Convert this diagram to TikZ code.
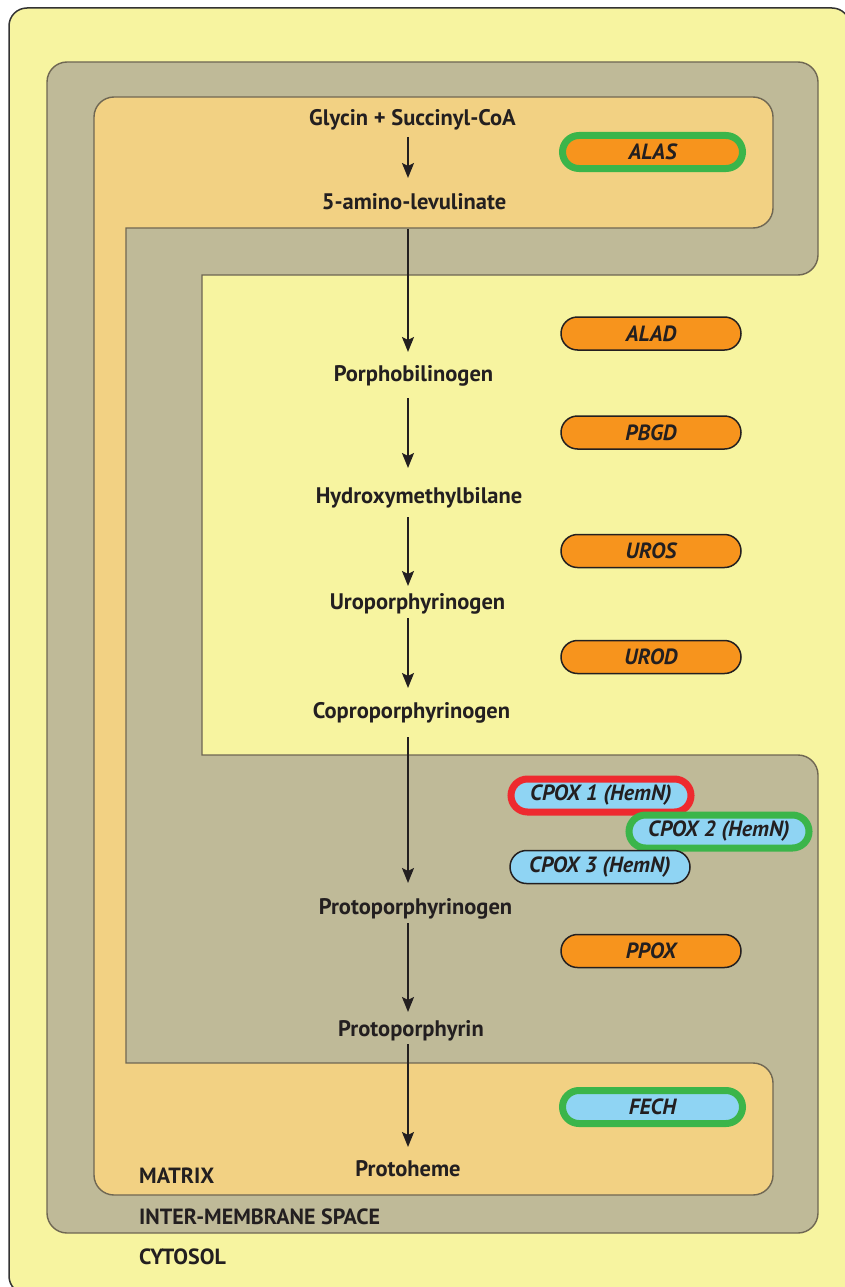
\documentclass[tikz,border=0pt]{standalone}
\usepackage{fontspec}
\setmainfont{PT Sans}
\usetikzlibrary{shapes.misc,arrows.meta,calc}
\definecolor{cyto}{HTML}{F7F4A0}
\definecolor{imsc}{HTML}{BFBA98}
\definecolor{matrixc}{HTML}{F2D183}
\definecolor{memb}{HTML}{6F6753}
\definecolor{enzorange}{HTML}{F7941D}
\definecolor{enzblue}{HTML}{8FD4F3}
\definecolor{ringgreen}{HTML}{3BB54A}
\definecolor{ringred}{HTML}{EE2A2F}
\definecolor{ink}{HTML}{231F20}
\begin{document}
\begin{tikzpicture}[x=1pt,y=-1pt,
  metab/.style={font=\fontsize{22.5}{26}\selectfont\bfseries, text=ink, anchor=base, inner sep=0pt},
  region/.style={font=\fontsize{22}{26}\selectfont\bfseries, text=ink, anchor=base west, inner sep=0pt},
  enz/.style={rounded rectangle, minimum width=180pt, minimum height=33pt, inner sep=0pt,
    font=\fontsize{22}{26}\selectfont\bfseries\itshape, text=ink},
  enzo/.style={enz, fill=enzorange, draw=ink, line width=1.5pt},
  enzb/.style={enz, fill=enzblue, draw=ink, line width=1.5pt},
  ringg/.style={draw=ringgreen, line width=7pt},
  ringr/.style={draw=ringred, line width=7pt},
  arr/.style={draw=ink, line width=2pt, -{Stealth[length=15pt,width=12pt,inset=3pt]}},
  membrane/.style={draw=memb, line width=1.4pt}
]
\clip (0,0) rectangle (845,1287);
% cytosol
\draw[fill=cyto, draw=black!80, line width=1.5pt, rounded corners=18pt] (9,8) rectangle (850,1294);
% inter-membrane space (C shape)
\draw[membrane, fill=imsc]
  (202,275) -- (798,275) .. controls (809,275) and (818,266) .. (818,255)
  -- (818,82) .. controls (818,71) and (809,62) .. (798,62)
  -- (67,62) .. controls (56,62) and (47,71) .. (47,82)
  -- (47,1213) .. controls (47,1224) and (56,1233) .. (67,1233)
  -- (798,1233) .. controls (809,1233) and (818,1224) .. (818,1213)
  -- (818,775) .. controls (818,764) and (809,755) .. (798,755)
  -- (202,755) -- cycle;
% matrix
\draw[membrane, fill=matrixc]
  (126,228) -- (753,228) .. controls (764,228) and (773,219) .. (773,208)
  -- (773,117) .. controls (773,106) and (764,97) .. (753,97)
  -- (114,97) .. controls (103,97) and (94,106) .. (94,117)
  -- (94,1175) .. controls (94,1186) and (103,1195) .. (114,1195)
  -- (753,1195) .. controls (764,1195) and (773,1186) .. (773,1175)
  -- (773,1083) .. controls (773,1072) and (764,1063) .. (753,1063)
  -- (126,1063) -- cycle;

\coordinate (ax) at (408,0);

% metabolites
\node[metab] (gly) at (412.5,126) {Glycin + Succinyl-CoA};
\node[metab] (ala) at (414,209) {5-amino-levulinate};
\node[metab] (pbg) at (413.5,381) {Porphobilinogen};
\node[metab] (hmb) at (419,503) {Hydroxymethylbilane};
\node[metab] (uro) at (417.5,609) {Uroporphyrinogen};
\node[metab] (copro) at (411.5,718) {Coproporphyrinogen};
\node[metab] (protogen) at (415.5,914) {Protoporphyrinogen};
\node[metab] (proto) at (411,1036) {Protoporphyrin};
\node[metab] (heme) at (408,1176) {Protoheme};

% arrows
\draw[arr] ($(gly.base -| ax)+(0,11)$) -- ($(ala.base -| ax)+(0,-31)$);
\draw[arr] ($(ala.base -| ax)+(0,20)$) -- ($(pbg.base -| ax)+(0,-29)$);
\draw[arr] ($(pbg.base -| ax)+(0,17)$) -- ($(hmb.base -| ax)+(0,-35)$);
\draw[arr] ($(hmb.base -| ax)+(0,14)$) -- ($(uro.base -| ax)+(0,-23)$);
\draw[arr] ($(uro.base -| ax)+(0,9)$) -- ($(copro.base -| ax)+(0,-30)$);
\draw[arr] ($(copro.base -| ax)+(0,19)$) -- ($(protogen.base -| ax)+(0,-31)$);
\draw[arr] ($(protogen.base -| ax)+(0,9)$) -- ($(proto.base -| ax)+(0,-24)$);
\draw[arr] ($(proto.base -| ax)+(0,8)$) -- ($(heme.base -| ax)+(0,-29)$);

% enzymes
\node[enzo, ringg] (alas) at (652.5,152) {ALAS};
\node[enzo] (alad) at (651,333.5) {ALAD};
\node[enzo] (pbgd) at (651,432.5) {PBGD};
\node[enzo] (uros) at (651,551) {UROS};
\node[enzo] (urod) at (651,657) {UROD};
\node[enzb, ringr] (cpox1) at (601,795.5) {CPOX 1 (HemN)};
\node[enzb, ringg] (cpox2) at (719,831.5) {CPOX 2 (HemN)};
\node[enzb] (cpox3) at (600,867) {CPOX 3 (HemN)};
\node[enzo] (ppox) at (651,951) {PPOX};
\node[enzb, ringg] (fech) at (652.5,1107) {FECH};

% compartment labels
\node[region] (lmatrix) at (139,1183) {MATRIX};
\node[region] (lims) at (139,1224) {INTER-MEMBRANE SPACE};
\node[region] (lcyto) at (139,1264) {CYTOSOL};
\end{tikzpicture}
\end{document}
